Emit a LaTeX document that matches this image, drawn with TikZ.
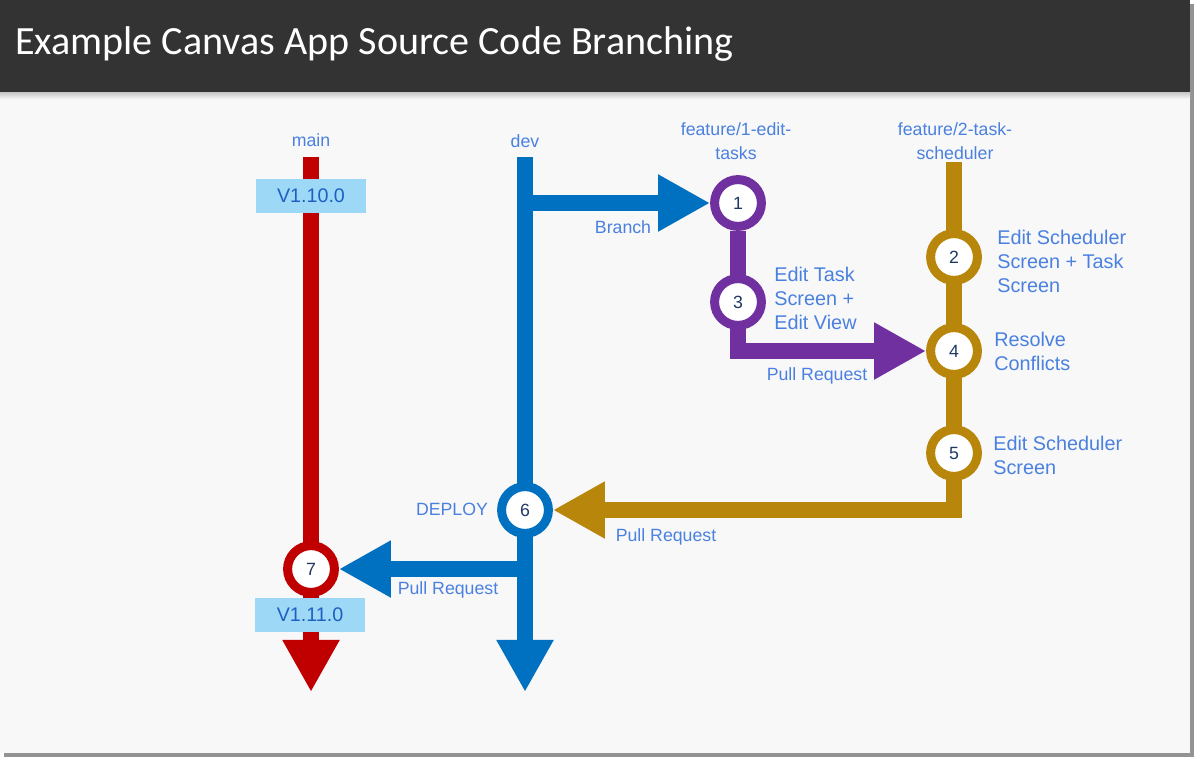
\documentclass[tikz,border=0pt]{standalone}
\usepackage{fontspec}
\setmainfont{Liberation Sans}
\newfontfamily\titlefont{Carlito}
\usetikzlibrary{arrows.meta,positioning,backgrounds}
\definecolor{mainred}{HTML}{C00000}
\definecolor{devblue}{HTML}{0070C0}
\definecolor{featpurple}{HTML}{7030A0}
\definecolor{featgold}{HTML}{B8860B}
\definecolor{labelblue}{HTML}{4A80E0}
\definecolor{tagfill}{HTML}{9DD9F7}
\definecolor{tagtext}{HTML}{1F5FBF}
\definecolor{numnavy}{HTML}{1F3864}
\definecolor{titlebar}{HTML}{333333}
\definecolor{slidebg}{HTML}{F8F8F8}

\tikzset{
  lane/.style={line width=12pt, line join=miter},
  lanearrow/.style={lane, -{Triangle[width=38pt,length=37pt]}},
  commit/.style={circle, draw=#1, fill=white, line width=6.4pt, minimum size=33.3pt,
    inner sep=0pt, text=numnavy, font=\fontsize{12.6}{15}\selectfont},
  lbl/.style={text=labelblue, font=\fontsize{12.6}{17}\selectfont, inner sep=0pt, align=center},
  desc/.style={lbl, align=left, anchor=west, font=\fontsize{14.1}{17}\selectfont},
  vtag/.style={fill=tagfill, text=tagtext, minimum width=78.7pt, minimum height=24pt,
    inner sep=0pt, font=\fontsize{14}{16}\selectfont},
}

\begin{document}
\begin{tikzpicture}[x=0.025cm, y=-0.025cm]
			\useasboundingbox (0,0) rectangle (1200,764);
			% Slide
			\begin{scope}[on background layer]
				\fill[white] (0,0) rectangle (1200,764);
				\fill[gray!85] (4,4) rectangle (1194,757);
				\fill[slidebg] (0,0) rectangle (1190,753);
				\shade[top color=gray!45, bottom color=slidebg] (0,92) rectangle (1190,99);
				\fill[titlebar] (0,0) rectangle (1190,92);
			\end{scope}
			\node[anchor=base west, text=white, inner sep=0pt, font=\titlefont\fontsize{28.5}{30}\selectfont] (title) at (15,54) {Example Canvas App Source Code Branching};
			
			% Branch names
			\node[lbl] (mainname) at (311,140) {main};
			\node[lbl] (devname) at (525,141) {dev};
			\node[lbl] (f1name) at (736,141) {feature/1-edit-\\tasks};
			\node[lbl] (f2name) at (955,141) {feature/2-task-\\scheduler};
			
			% Lane ends
			\coordinate (maintop) at (311,157);
			\coordinate (mainend) at (311,692);
			\coordinate (devtop) at (525,157);
			\coordinate (devend) at (525,692);
			\coordinate (branchpt) at (525,203);
			\coordinate (prpt) at (525,569);
			\coordinate (f2top) at (954,162);
			
			% Commits
			\node[commit=featpurple] (c1) at (738,203) {1};
			\node[commit=featgold] (c2) at (954,257) {2};
			\node[commit=featpurple] (c3) at (738,302) {3};
			\node[commit=featgold] (c4) at (954,351) {4};
			\node[commit=featgold] (c5) at (954,453) {5};
			\node[commit=devblue] (c6) at (525,510) {6};
			\node[commit=mainred] (c7) at (311,569) {7};
			
			% Versions
			\node[vtag] (v1) at (311,196) {V1.10.0};
			\node[vtag] (v2) at (310,615) {V1.11.0};
			
			% Lanes
			\begin{scope}[on background layer]
				\draw[lanearrow, mainred] (maintop) -- (mainend);
				\draw[lanearrow, devblue] (devtop) -- (devend);
				\draw[lanearrow, devblue] (branchpt) -- (c1.west);
				\draw[lanearrow, featpurple] (c1) |- (c4.west);
				\draw[lanearrow, featgold] (f2top) |- (c6.east);
				\draw[lanearrow, devblue] (prpt) -- (c7.east);
			\end{scope}
			
			% Labels
			\node[lbl] (brlbl) at (623,227) {Branch};
			\node[lbl] (pr1) at (817,376) {Pull Request};
			\node[lbl] (pr2) at (666,537) {Pull Request};
			\node[lbl] (pr3) at (448,590) {Pull Request};
			\node[lbl] (deploy) at (452,509) {DEPLOY};
			\node[desc] (d3) at (774,298) {Edit Task\\Screen +\\Edit View};
			\node[desc] (d2) at (997,261) {Edit Scheduler\\Screen + Task\\Screen};
			\node[desc] (d4) at (994,351) {Resolve\\Conflicts};
			\node[desc] (d5) at (993,455) {Edit Scheduler\\Screen};
		\end{tikzpicture}
\end{document}
